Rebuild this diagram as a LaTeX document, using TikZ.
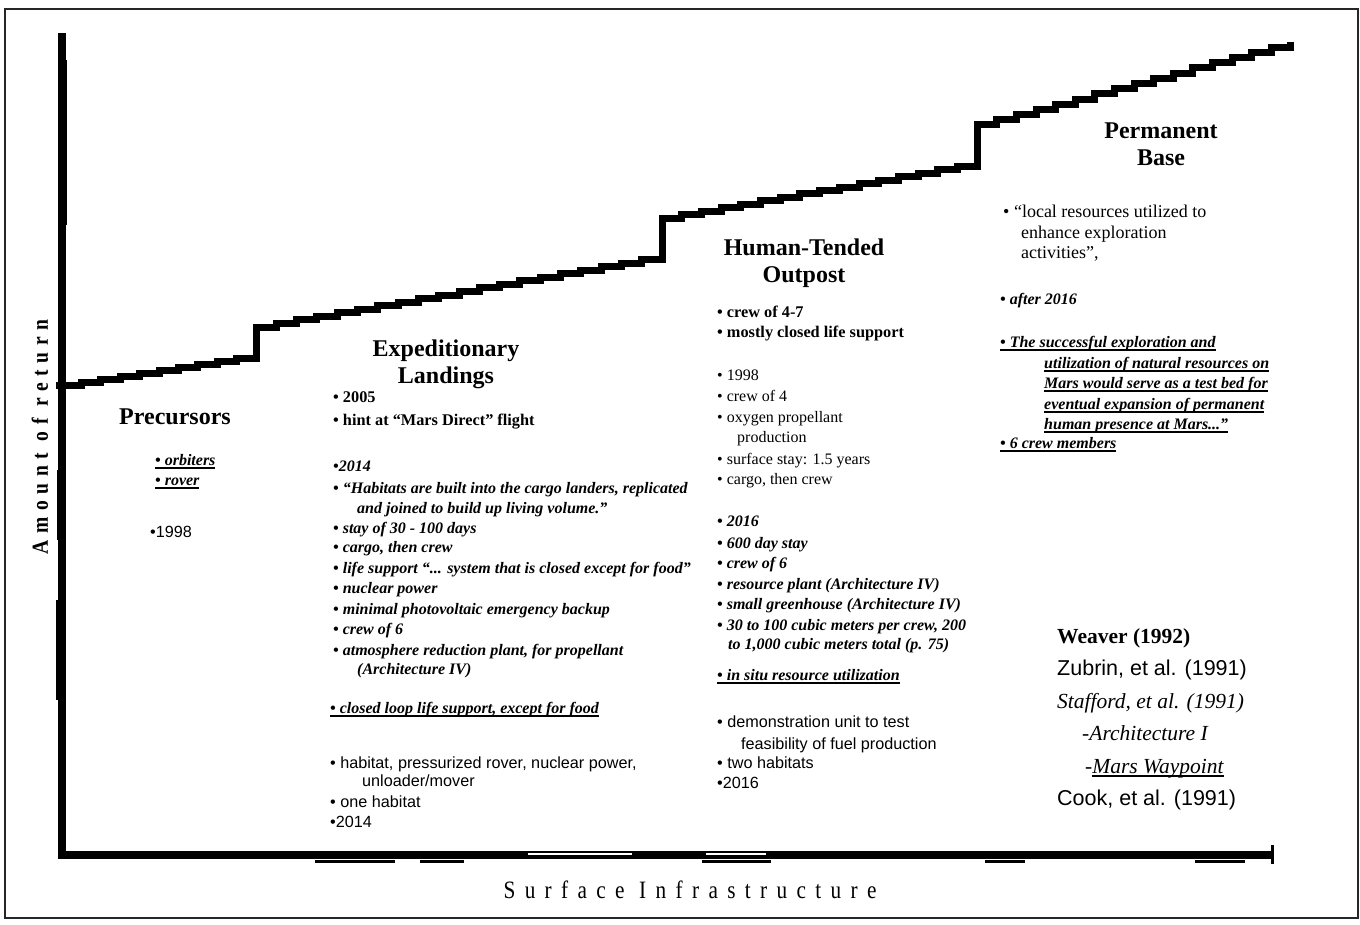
\documentclass[tikz,border=0pt]{standalone}
\usepackage{fontspec}
\setmainfont{Liberation Serif}
\newfontfamily\hvf{Liberation Sans}
\newfontfamily\spfont[LetterSpace=44]{Liberation Serif}
\newfontfamily\spyfont[LetterSpace=34]{Liberation Serif}
\newcommand\myul[1]{\setbox0=\hbox{#1}\rlap{\rule[-4pt]{\wd0}{1.6pt}}\box0}
\tikzset{
 ttl/.style={anchor=base, inner sep=0, font=\fontsize{24}{26}\selectfont\bfseries},
 tb/.style={anchor=base west, inner sep=0, font=\fontsize{16.3}{18}\selectfont\bfseries},
 tr/.style={anchor=base west, inner sep=0, font=\fontsize{16}{18}\selectfont},
 ti/.style={anchor=base west, inner sep=0, font=\fontsize{16}{18}\selectfont\bfseries\itshape},
 th/.style={anchor=base west, inner sep=0, font=\fontsize{16.2}{18}\selectfont\hvf},
 ref/.style={anchor=base west, inner sep=0, font=\fontsize{21.5}{24}\selectfont},
 curve/.style={line width=7, line join=miter},
 ax/.style={line width=8},
}
\begin{document}
\begin{tikzpicture}[x=1pt,y=-1pt]
\useasboundingbox (0,0) rectangle (1360,924);
% frame
\draw[black!85, line width=1.1] (5,9) rectangle (1358,918);
% axes
\draw[ax] (62,33) -- (62,859);
\fill (58,60) rectangle (67,225);
\fill (57,470) rectangle (66,540);
\fill (56,600) rectangle (66,700);
\draw[ax] (58,855) -- (1273,855);
\draw[line width=3] (1272,845) -- (1272,864);
\foreach \a/\b in {315/395,420/464,702/771,985/1025,1195/1245}
  \draw[line width=3] (\a,861.5) -- (\b,861.5);
\draw[white, line width=2] (528,854) -- (632,854);
\draw[white, line width=2] (706,854) -- (766,854);
% staircase curve
\draw[curve] (56,385) -- (62,385)
  \foreach \i in {1,...,10}{ -- ++(19.4,0) -- ++(0,-3)} -- ++(0,-28)
  \foreach \i in {1,...,20}{ -- ++(20.3,0) -- ++(0,-3.55)} -- ++(0,-38)
  \foreach \i in {1,...,16}{ -- ++(19.7,0) -- ++(0,-3.44)} -- ++(0,-38)
  \foreach \i in {1,...,16}{ -- ++(19.6,0) -- ++(0,-5.19)};
% axis labels
\node[rotate=90, inner sep=0, font=\fontsize{23}{24}\selectfont\spyfont\bfseries] (ylab) at (40,437) {\scalebox{0.85}[1]{Amount of return}};
\node[inner sep=0, font=\fontsize{25}{26}\selectfont\spfont] (xlab) at (690,890) {\scalebox{0.85}[1]{Surface Infrastructure}};
% Precursors
\node[ttl] (pt) at (175,424) {Precursors};
\node[ti] (p1) at (155,465) {\myul{• orbiters}};
\node[ti] (p2) at (155,485) {\myul{• rover}};
\node[th] (p3) at (150,537) {•1998};
% Expeditionary Landings
\node[ttl] (et1) at (446,356) {Expeditionary};
\node[ttl] (et2) at (446,383) {Landings};
\node[tb] (e1) at (333,402) {• 2005};
\node[tb] (e2) at (333,425) {• hint at “Mars Direct” flight};
\node[ti] (e3) at (333,471) {•2014};
\node[ti] (e4) at (333,493) {• “Habitats are built into the cargo landers, replicated};
\node[ti] (e5) at (357,513) {and joined to build up living volume.”};
\node[ti] (e6) at (333,533) {• stay of 30 - 100 days};
\node[ti] (e7) at (333,552) {• cargo, then crew};
\node[ti] (e8) at (333,573) {• life support “... system that is closed except for food”};
\node[ti] (e9) at (333,593) {• nuclear power};
\node[ti] (e10) at (333,614) {• minimal photovoltaic emergency backup};
\node[ti] (e11) at (333,634) {• crew of 6};
\node[ti] (e12) at (333,655) {• atmosphere reduction plant, for propellant};
\node[ti] (e13) at (357,674) {(Architecture IV)};
\node[ti] (e14) at (330,713) {\myul{• closed loop life support, except for food}};
\node[th] (e15) at (330,768) {• habitat, pressurized rover, nuclear power,};
\node[th] (e16) at (362,786) {unloader/mover};
\node[th] (e17) at (330,807) {• one habitat};
\node[th] (e18) at (330,827) {•2014};
% Human-Tended Outpost
\node[ttl] (ht1) at (804,255) {Human-Tended};
\node[ttl] (ht2) at (804,282) {Outpost};
\node[tb] (h1) at (717,317) {• crew of 4-7};
\node[tb] (h2) at (717,337) {• mostly closed life support};
\node[tr] (h3) at (717,380) {• 1998};
\node[tr] (h4) at (717,401) {• crew of 4};
\node[tr] (h5) at (717,422) {• oxygen propellant};
\node[tr] (h6) at (737,442) {production};
\node[tr] (h7) at (717,464) {• surface stay: 1.5 years};
\node[tr] (h8) at (717,484) {• cargo, then crew};
\node[ti] (h9) at (717,526) {• 2016};
\node[ti] (h10) at (717,548) {• 600 day stay};
\node[ti] (h11) at (717,568) {• crew of 6};
\node[ti] (h12) at (717,589) {• resource plant (Architecture IV)};
\node[ti] (h13) at (717,609) {• small greenhouse (Architecture IV)};
\node[ti] (h14) at (717,630) {• 30 to 100 cubic meters per crew, 200};
\node[ti] (h15) at (728,649) {to 1,000 cubic meters total (p. 75)};
\node[ti] (h16) at (717,680) {\myul{• in situ resource utilization}};
\node[th] (h17) at (717,727) {• demonstration unit to test};
\node[th] (h18) at (741,749) {feasibility of fuel production};
\node[th] (h19) at (717,768) {• two habitats};
\node[th] (h20) at (717,788) {•2016};
% Permanent Base
\node[ttl] (bt1) at (1161,138) {Permanent};
\node[ttl] (bt2) at (1161,165) {Base};
\node[tr, font=\fontsize{18}{20}\selectfont] (b1) at (1003,217) {• “local resources utilized to};
\node[tr, font=\fontsize{18}{20}\selectfont] (b2) at (1021,238) {enhance exploration};
\node[tr, font=\fontsize{18}{20}\selectfont] (b3) at (1021,258) {activities”,};
\node[ti] (b4) at (1000,304) {• after 2016};
\node[ti] (b5) at (1000,347) {\myul{• The successful exploration and}};
\node[ti] (b6) at (1044,368) {\myul{utilization of natural resources on}};
\node[ti] (b7) at (1044,388) {\myul{Mars would serve as a test bed for}};
\node[ti] (b8) at (1044,409) {\myul{eventual expansion of permanent}};
\node[ti] (b9) at (1044,429) {\myul{human presence at Mars...”}};
\node[ti] (b10) at (1000,448) {\myul{• 6 crew members}};
% references
\node[ref, font=\fontsize{21.5}{24}\selectfont\bfseries] (r1) at (1057,643) {Weaver (1992)};
\node[ref, font=\fontsize{21.5}{24}\selectfont\hvf] (r2) at (1057,675) {Zubrin, et al. (1991)};
\node[ref, font=\fontsize{21.5}{24}\selectfont\itshape] (r3) at (1057,708) {Stafford, et al. (1991)};
\node[ref, font=\fontsize{21.5}{24}\selectfont\itshape] (r4) at (1082,740) {-Architecture I};
\node[ref, font=\fontsize{21.5}{24}\selectfont\itshape] (r5) at (1085,773) {-\myul{Mars Waypoint}};
\node[ref, font=\fontsize{21.5}{24}\selectfont\hvf] (r6) at (1057,805) {Cook, et al. (1991)};
\end{tikzpicture}
\end{document}
